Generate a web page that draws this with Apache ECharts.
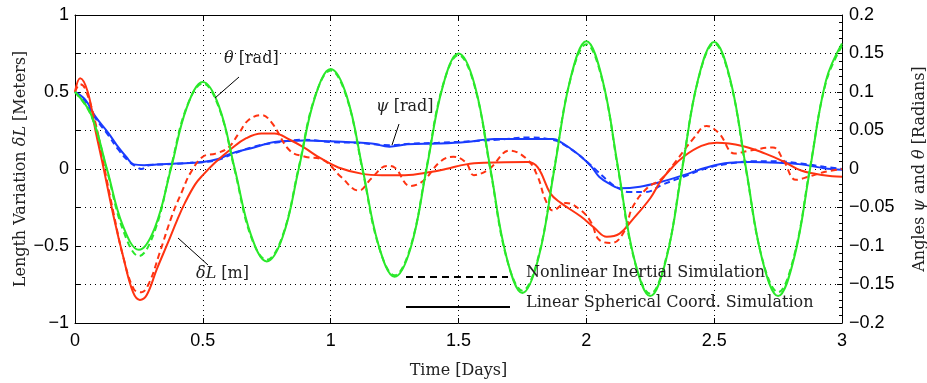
<!DOCTYPE html>
<html>
<head>
<meta charset="utf-8">
<script src="https://cdn.jsdelivr.net/npm/echarts@6/dist/echarts.min.js"></script>
<style>
  html, body { margin: 0; padding: 0; background: #fff; }
  #chart { width: 927px; height: 383px; }
</style>
</head>
<body>
<div id="chart"></div>
<script>
// time axis ticks (days)
const timeTicks = [0, 0.5, 1, 1.5, 2, 2.5, 3];

// theta [rad] - linear (solid) and nonlinear (dashed), right axis
const tGreen = [0, 0.0625, 0.125, 0.1875, 0.25, 0.3125, 0.375, 0.4375, 0.5, 0.5625, 0.625, 0.6875,
  0.75, 0.8125, 0.875, 0.9375, 1, 1.0625, 1.125, 1.1875, 1.25, 1.3125, 1.375, 1.4375,
  1.5, 1.5625, 1.625, 1.6875, 1.75, 1.8125, 1.875, 1.9375, 2, 2.0625, 2.125, 2.1875,
  2.25, 2.3125, 2.375, 2.4375, 2.5, 2.5625, 2.625, 2.6875, 2.75, 2.8125, 2.875, 2.9375, 3];
const thetaLin = [0.100, 0.071, 0.000, -0.074, -0.105, -0.076, 0.000, 0.080, 0.113, 0.082, 0.000, -0.085,
  -0.120, -0.088, 0.000, 0.092, 0.130, 0.095, 0.000, -0.099, -0.140, -0.103, 0.000, 0.106,
  0.150, 0.110, 0.000, -0.114, -0.161, -0.116, 0.000, 0.117, 0.166, 0.117, 0.000, -0.117,
  -0.165, -0.117, 0.000, 0.117, 0.165, 0.117, 0.000, -0.117, -0.165, -0.116, 0.000, 0.115, 0.163];
const thetaNon = [0.100, 0.070, -0.002, -0.079, -0.113, -0.080, 0.002, 0.081, 0.111, 0.080, -0.002, -0.087,
  -0.118, -0.086, 0.002, 0.093, 0.128, 0.093, -0.002, -0.100, -0.138, -0.101, 0.002, 0.107,
  0.148, 0.108, -0.002, -0.115, -0.158, -0.114, 0.002, 0.116, 0.162, 0.115, -0.002, -0.118,
  -0.162, -0.115, 0.002, 0.116, 0.163, 0.115, -0.002, -0.116, -0.160, -0.113, 0.002, 0.113, 0.160];

// psi [rad] - right axis
const tBlueLin = [0, 0.04, 0.08, 0.13, 0.17, 0.2, 0.23, 0.27, 0.32, 0.4, 0.5, 0.56, 0.61, 0.7, 0.78, 0.9,
  1.0, 1.16, 1.23, 1.3, 1.42, 1.53, 1.64, 1.75, 1.87, 1.9, 1.94, 1.98, 2.02, 2.05, 2.09, 2.13,
  2.21, 2.29, 2.38, 2.47, 2.56, 2.64, 2.75, 2.84, 2.93, 3.0];
const psiLin = [0.100, 0.090, 0.068, 0.047, 0.028, 0.016, 0.006, 0.005, 0.006, 0.007, 0.009, 0.013, 0.020, 0.028, 0.035, 0.037,
  0.036, 0.033, 0.029, 0.032, 0.033, 0.035, 0.039, 0.039, 0.039, 0.035, 0.026, 0.016, 0.003, -0.010, -0.019, -0.025,
  -0.023, -0.017, -0.008, 0.002, 0.008, 0.009, 0.008, 0.006, 0.001, -0.001];
const tBlueNon = [0, 0.04, 0.08, 0.13, 0.17, 0.21, 0.24, 0.26, 0.29, 0.35, 0.45, 0.55, 0.62, 0.7, 0.78, 0.9,
  1.0, 1.1, 1.23, 1.32, 1.42, 1.55, 1.65, 1.78, 1.88, 1.92, 1.96, 2.0, 2.04, 2.08, 2.12, 2.17,
  2.23, 2.3, 2.38, 2.47, 2.56, 2.65, 2.75, 2.84, 2.93, 3.0];
const psiNon = [0.100, 0.088, 0.066, 0.044, 0.025, 0.010, 0.003, 0.000, 0.005, 0.006, 0.008, 0.011, 0.020, 0.029, 0.034, 0.038,
  0.035, 0.034, 0.031, 0.033, 0.034, 0.036, 0.038, 0.041, 0.037, 0.030, 0.021, 0.010, -0.002, -0.014, -0.024, -0.030,
  -0.030, -0.020, -0.010, 0.001, 0.007, 0.010, 0.010, 0.007, 0.003, 0.000];

// delta L [m] - left axis
const tRedLin = [0, 0.02, 0.05, 0.08, 0.11, 0.15, 0.19, 0.227, 0.254, 0.28, 0.32, 0.363, 0.4, 0.43, 0.47, 0.5,
  0.547, 0.61, 0.67, 0.73, 0.78, 0.84, 0.895, 0.96, 1.03, 1.12, 1.2, 1.29, 1.39, 1.45, 1.53, 1.6,
  1.77, 1.81, 1.86, 1.9, 1.98, 2.03, 2.08, 2.13, 2.18, 2.25, 2.29, 2.33, 2.38, 2.45, 2.51, 2.61,
  2.7, 2.77, 2.84, 2.93, 3.0];
const dLLin = [0.50, 0.59, 0.50, 0.25, 0.02, -0.30, -0.58, -0.80, -0.85, -0.82, -0.65, -0.48, -0.33, -0.22, -0.10, -0.04,
  0.04, 0.13, 0.20, 0.23, 0.23, 0.19, 0.14, 0.07, 0.01, -0.03, -0.04, -0.04, -0.02, 0.00, 0.03, 0.04,
  0.045, 0.01, -0.16, -0.22, -0.31, -0.38, -0.44, -0.42, -0.33, -0.19, -0.08, 0.00, 0.08, 0.15, 0.17, 0.15,
  0.10, 0.05, -0.01, -0.04, -0.05];
const tRedNon = [0, 0.02, 0.04, 0.08, 0.11, 0.15, 0.19, 0.23, 0.26, 0.29, 0.33, 0.38, 0.42, 0.45, 0.5, 0.55,
  0.6, 0.64, 0.68, 0.73, 0.77, 0.84, 0.9, 0.97, 1.04, 1.11, 1.16, 1.22, 1.25, 1.31, 1.36, 1.43,
  1.48, 1.53, 1.56, 1.62, 1.7, 1.77, 1.81, 1.84, 1.87, 1.92, 1.98, 2.02, 2.05, 2.1, 2.15, 2.18,
  2.24, 2.29, 2.35, 2.42, 2.47, 2.52, 2.58, 2.64, 2.73, 2.77, 2.82, 2.87, 2.93, 3.0];
const dLNon = [0.50, 0.55, 0.52, 0.30, 0.05, -0.28, -0.58, -0.78, -0.80, -0.74, -0.55, -0.30, -0.14, -0.03, 0.08, 0.10,
  0.14, 0.23, 0.32, 0.35, 0.30, 0.12, 0.08, 0.06, -0.05, -0.14, -0.06, 0.02, 0.01, -0.11, -0.08, 0.05,
  0.08, 0.04, -0.04, 0.00, 0.12, 0.06, -0.05, -0.20, -0.27, -0.22, -0.27, -0.35, -0.46, -0.48, -0.40, -0.25,
  -0.12, -0.07, 0.05, 0.20, 0.28, 0.23, 0.10, 0.12, 0.14, 0.06, -0.07, -0.05, -0.02, 0.00];

const RED = '#ff3311';
const GREEN = '#2ae82a';
const BLUE = '#1a3cff';
const SERIF = '"DejaVu Serif", serif';
const SANS = '"Liberation Sans", Arial, sans-serif';

const pairs = (ts, vs) => ts.map((t, i) => [t, vs[i]]);
const minus = s => String(s).replace('-', '\u2212');

const chart = echarts.init(document.getElementById('chart'));

const italic = { fontFamily: SERIF, fontStyle: 'italic', fontSize: 16, color: '#222' };
const serifFont = '16px ' + SERIF;

function line(name, data, color, dashed, yIdx) {
  return {
    name, type: 'line', data, yAxisIndex: yIdx, smooth: 0.4,
    symbol: 'none', animation: false,
    lineStyle: { color, width: 2, type: dashed ? [6, 4] : 'solid' },
  };
}

chart.setOption({
  backgroundColor: '#fff',
  animation: false,
  grid: { left: 75, right: 85, top: 15, bottom: 60, outerBoundsMode: 'none', containLabel: false },
  xAxis: [
    {
      type: 'value', min: 0, max: 3, interval: 0.5,
      name: 'Time [Days]', nameLocation: 'middle', nameGap: 40, nameMoveOverlap: false,
      nameTextStyle: { fontFamily: SERIF, fontSize: 16, color: '#222' },
      axisLine: { onZero: false, lineStyle: { color: '#000', width: 1 } },
      axisTick: { inside: true, length: 5, lineStyle: { color: '#000' } },
      axisLabel: { color: '#000', fontFamily: SANS, fontSize: 18, margin: 9,
        formatter: v => timeTicks.includes(v) ? String(v) : '' },
      splitLine: { show: true, lineStyle: { color: '#000', type: [1, 4], width: 1 } },
    },
    {
      type: 'value', min: 0, max: 3, interval: 0.5, position: 'top',
      axisLine: { onZero: false, lineStyle: { color: '#000', width: 1 } },
      axisTick: { inside: true, length: 5, lineStyle: { color: '#000' } },
      axisLabel: { show: false }, splitLine: { show: false },
    },
  ],
  yAxis: [
    {
      type: 'value', min: -1, max: 1, interval: 0.25, position: 'left',
      name: 'Length Variation {i|\u03b4L} [Meters]', nameLocation: 'middle', nameGap: 46, nameRotate: 90,
      nameMoveOverlap: false,
      nameTextStyle: { fontFamily: SERIF, fontSize: 16, color: '#222', rich: { i: italic } },
      axisLine: { show: true, onZero: false, lineStyle: { color: '#000', width: 1 } },
      axisTick: { inside: true, length: 5, lineStyle: { color: '#000' } },
      axisLabel: { color: '#000', fontFamily: SANS, fontSize: 18, margin: 6,
        formatter: v => (Math.abs(v * 2 - Math.round(v * 2)) < 1e-6) ? minus(v) : '' },
      splitLine: { show: true, lineStyle: { color: '#000', type: [1, 4], width: 1 } },
    },
    {
      type: 'value', min: -0.2, max: 0.2, interval: 0.05, position: 'right',
      name: 'Angles {i|\u03c8} and {i|\u03b8} [Radians]', nameLocation: 'middle', nameGap: 70, nameRotate: 90,
      nameMoveOverlap: false,
      nameTextStyle: { fontFamily: SERIF, fontSize: 16, color: '#222', rich: { i: italic } },
      axisLine: { show: true, onZero: false, lineStyle: { color: '#000', width: 1 } },
      axisTick: { inside: true, length: 5, lineStyle: { color: '#000' } },
      minorTick: { show: true, splitNumber: 5, length: 3, lineStyle: { color: '#000' } },
      axisLabel: { color: '#000', fontFamily: SANS, fontSize: 18, margin: 7,
        formatter: v => minus(Math.round(v * 100) / 100) },
      splitLine: { show: false },
    },
  ],
  series: [
    line('psi lin', pairs(tBlueLin, psiLin), BLUE, false, 1),
    line('psi non', pairs(tBlueNon, psiNon), BLUE, true, 1),
    line('dL lin', pairs(tRedLin, dLLin), RED, false, 0),
    line('dL non', pairs(tRedNon, dLNon), RED, true, 0),
    line('theta lin', pairs(tGreen, thetaLin), GREEN, false, 1),
    line('theta non', pairs(tGreen, thetaNon), GREEN, true, 1),
  ],
  graphic: [
    // annotations
    { type: 'text', left: 224, top: 51, z: 100,
      style: { text: '{i|\u03b8} [rad]', font: serifFont, fill: '#222', rich: { i: italic } } },
    { type: 'line', z: 100, shape: { x1: 239, y1: 77, x2: 215, y2: 98 }, style: { stroke: '#000', lineWidth: 1 } },
    { type: 'text', left: 376, top: 99, z: 100,
      style: { text: '{i|\u03c8} [rad]', font: serifFont, fill: '#222', rich: { i: italic } } },
    { type: 'line', z: 100, shape: { x1: 399, y1: 124, x2: 392, y2: 145 }, style: { stroke: '#000', lineWidth: 1 } },
    { type: 'text', left: 196, top: 266, z: 100,
      style: { text: '{i|\u03b4L} [m]', font: serifFont, fill: '#222', rich: { i: italic } } },
    { type: 'line', z: 100, shape: { x1: 178, y1: 238, x2: 208, y2: 265 }, style: { stroke: '#000', lineWidth: 1 } },
    // legend
    { type: 'line', z: 100, shape: { x1: 406, y1: 277, x2: 508, y2: 277 },
      style: { stroke: '#000', lineWidth: 2, lineDash: [7, 5] } },
    { type: 'text', left: 526, top: 265, z: 100,
      style: { text: 'Nonlinear Inertial Simulation', font: serifFont, fill: '#222' } },
    { type: 'line', z: 100, shape: { x1: 406, y1: 307, x2: 510, y2: 307 },
      style: { stroke: '#000', lineWidth: 2 } },
    { type: 'text', left: 526, top: 295, z: 100,
      style: { text: 'Linear Spherical Coord. Simulation', font: serifFont, fill: '#222' } },
  ],
});
</script>
</body>
</html>
